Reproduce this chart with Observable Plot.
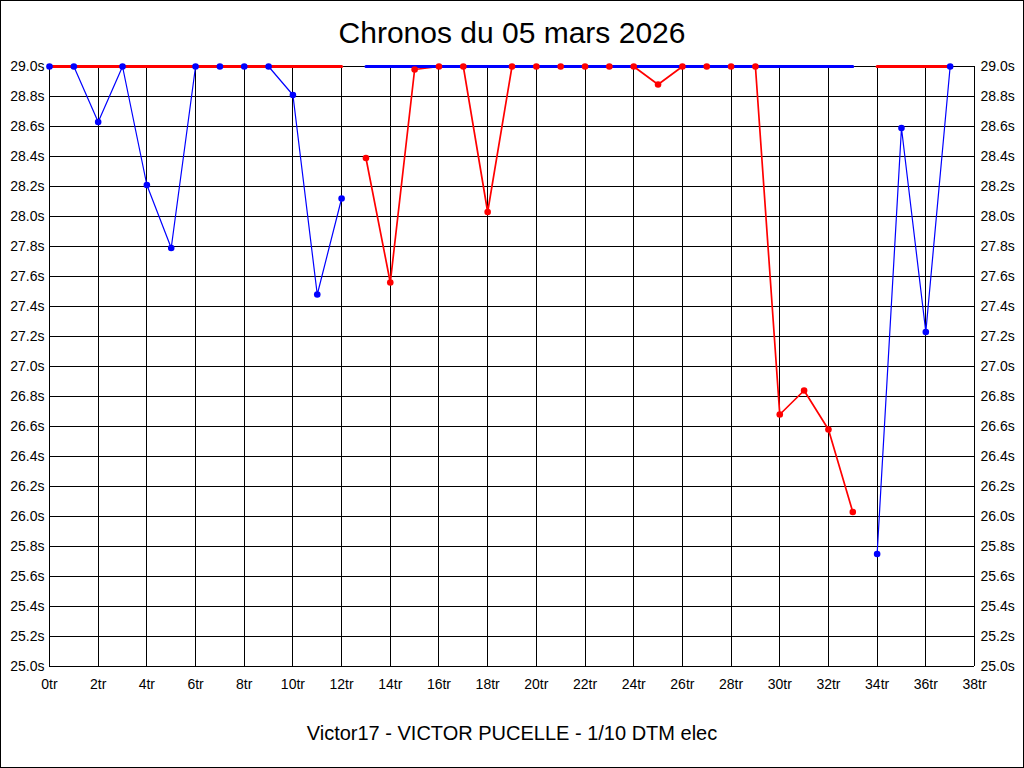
<!DOCTYPE html>
<html>
<head>
<meta charset="utf-8">
<script src="https://cdn.jsdelivr.net/npm/d3@7"></script>
<script src="https://cdn.jsdelivr.net/npm/@observablehq/plot@0.6"></script>
<style>
  html, body { margin: 0; padding: 0; background: #fff; }
  body { width: 1024px; height: 768px; position: relative; overflow: hidden; font-family: "Liberation Sans", Arial, sans-serif; }
  #frame { position: absolute; left: 0; top: 0; width: 1024px; height: 768px; box-sizing: border-box; border: 1px solid #000; pointer-events: none; }
  #title { position: absolute; left: 0; top: 13px; width: 1024px; height: 40px; line-height: 40px; text-align: center; font-size: 30px; color: #000; }
  #chart { position: absolute; left: 0; top: 50px; }
  #caption { position: absolute; left: 0; top: 720px; width: 1024px; height: 26px; line-height: 26px; text-align: center; font-size: 20px; color: #000; }
</style>
</head>
<body>
<div id="title">Chronos du 05 mars 2026</div>
<div id="chart"></div>
<div id="caption">Victor17 - VICTOR PUCELLE - 1/10 DTM elec</div>
<div id="frame"></div>
<script>
// Tick values
const xTicks = [0, 2, 4, 6, 8, 10, 12, 14, 16, 18, 20, 22, 24, 26, 28, 30, 32, 34, 36, 38];
const yTicks = [25.0, 25.2, 25.4, 25.6, 25.8, 26.0, 26.2, 26.4, 26.6, 26.8, 27.0, 27.2, 27.4, 27.6, 27.8, 28.0, 28.2, 28.4, 28.6, 28.8, 29.0];

// Blue series, first stint (laps 0-12)
const blueLaps1 = [0, 1, 2, 3, 4, 5, 6, 7, 8, 9, 10, 11, 12];
const blueTimes1 = [29.0, 29.0, 28.63, 29.0, 28.21, 27.79, 29.0, 29.0, 29.0, 29.0, 28.81, 27.48, 28.12];

// Red series (laps 13-33)
const redLaps = [13, 14, 15, 16, 17, 18, 19, 20, 21, 22, 23, 24, 25, 26, 27, 28, 29, 30, 31, 32, 33];
const redTimes = [28.39, 27.56, 28.98, 29.0, 29.0, 28.03, 29.0, 29.0, 29.0, 29.0, 29.0, 29.0, 28.88, 29.0, 29.0, 29.0, 29.0, 26.68, 26.84, 26.58, 26.03];

// Blue series, second stint (laps 34-37)
const blueLaps2 = [34, 35, 36, 37];
const blueTimes2 = [25.75, 28.59, 27.23, 29.0];

// Thick bands along the top
const redBand1 = [0, 12];
const blueBand = [13, 33];
const redBand2 = [34, 37];
const bandValue = 29.0;

const toRows = (laps, times, seg) => laps.map((l, i) => ({lap: l, time: times[i], seg}));
const blueRows = [...toRows(blueLaps1, blueTimes1, "b1"), ...toRows(blueLaps2, blueTimes2, "b2")];
const redRows = toRows(redLaps, redTimes, "r1");
const bandRows = (arr, seg) => arr.map(l => ({lap: l, time: bandValue, seg}));
const redBands = [...bandRows(redBand1, "rb1"), ...bandRows(redBand2, "rb2")];
const blueBands = bandRows(blueBand, "bb1");

const BLUE = "#0000ff", RED = "#ff0000";

const chart = Plot.plot({
  width: 1024,
  height: 660,
  marginLeft: 49,
  marginRight: 50,
  marginTop: 16,
  marginBottom: 44,
  x: {domain: [0, 38]},
  y: {domain: [25, 29]},
  style: {fontFamily: "'Liberation Sans', Arial, sans-serif", fontSize: "14px", color: "#000", background: "transparent", overflow: "visible"},
  marks: [
    Plot.ruleX(xTicks, {stroke: "#000", strokeWidth: 1, shapeRendering: "crispEdges"}),
    Plot.ruleY(yTicks, {stroke: "#000", strokeWidth: 1, shapeRendering: "crispEdges"}),
    Plot.axisY({anchor: "left", ticks: yTicks, tickSize: 0, tickPadding: 5, tickFormat: d => d.toFixed(1) + "s", label: null}),
    Plot.axisY({anchor: "right", ticks: yTicks, tickSize: 0, tickPadding: 6, tickFormat: d => d.toFixed(1) + "s", label: null}),
    Plot.axisX({ticks: xTicks, tickSize: 0, tickPadding: 13, tickFormat: d => d + "tr", label: null}),
    Plot.line(blueRows, {x: "lap", y: "time", z: "seg", stroke: BLUE, strokeWidth: 1.2}),
    Plot.line(redRows, {x: "lap", y: "time", z: "seg", stroke: RED, strokeWidth: 1.7}),
    Plot.line(redBands, {x: "lap", y: "time", z: "seg", stroke: RED, strokeWidth: 3}),
    Plot.line(blueBands, {x: "lap", y: "time", z: "seg", stroke: BLUE, strokeWidth: 3}),
    Plot.dot(blueRows, {x: "lap", y: "time", r: 3.3, fill: BLUE, stroke: null}),
    Plot.dot(redRows, {x: "lap", y: "time", r: 3.3, fill: RED, stroke: null})
  ]
});
document.getElementById("chart").appendChild(chart);
</script>
</body>
</html>
